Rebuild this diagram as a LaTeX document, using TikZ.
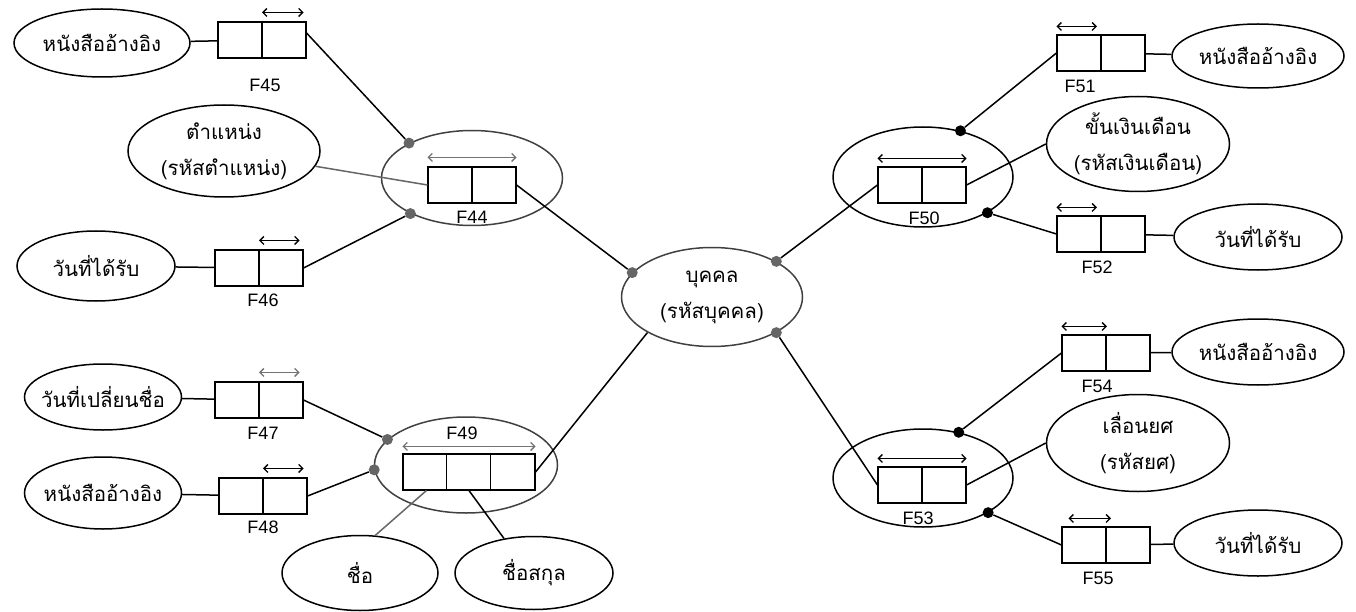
\documentclass[tikz,border=0pt]{standalone}
\usepackage{fontspec}
\newfontfamily\thaifont[Script=Thai]{Loma}
\setsansfont{Liberation Sans}
\usetikzlibrary{shapes.geometric, arrows, arrows.meta, positioning}

\tikzstyle{entity} = [ellipse, draw=black, line width=1.5pt, inner sep=-15pt, align=center, font=\thaifont\fontsize{20.5}{36}\selectfont]
\tikzstyle{keybox} = [rectangle, draw=black, line width=1.1pt, minimum width=88pt, minimum height=36pt, inner sep=0pt]
\tikzstyle{widebox} = [keybox, minimum width=132pt]
\tikzstyle{keyarrow} = [{Straight Barb[length=4pt, width=8pt]}-{Straight Barb[length=4pt, width=8pt]}, line width=1.3pt]
\tikzstyle{flabel} = [inner sep=0pt, font=\sffamily\fontsize{18}{18}\selectfont]
\tikzstyle{gdot} = [circle, fill=black!60, inner sep=0pt, minimum size=11pt]
\tikzstyle{bdot} = [gdot, fill=black]
\tikzstyle{link} = [line width=1.5pt]

\begin{document}
\begin{tikzpicture}[x=1pt, y=1pt]
\useasboundingbox (0,0) rectangle (1356,-612);

% left side
\node (e45) [entity, minimum width=176pt, minimum height=68pt] at (102,-43) {หนังสืออ้างอิง};
\node (epos) [entity, minimum width=192pt, minimum height=92pt] at (224,-151) {ตำแหน่ง\\(รหัสตำแหน่ง)};
\node (e46) [entity, minimum width=158pt, minimum height=70pt] at (96,-266) {วันที่ได้รับ};
\node (e47) [entity, minimum width=157pt, minimum height=66pt] at (103,-397) {วันที่เปลี่ยนชื่อ};
\node (e48) [entity, minimum width=157pt, minimum height=72pt] at (103,-493) {หนังสืออ้างอิง};
\node (efirst) [entity, minimum width=156pt, minimum height=75pt] at (360,-573) {ชื่อ};
\node (elast) [entity, minimum width=158pt, minimum height=73pt] at (534,-573) {ชื่อสกุล};
\node (e44) [entity, draw=black!75, minimum width=181pt, minimum height=95pt] at (472,-178) {};
\node (e49) [entity, draw=black!75, minimum width=183pt, minimum height=96pt] at (466,-465) {};
\node (person) [entity, draw=black!75, minimum width=181pt, minimum height=99pt] at (712,-297) {บุคคล\\(รหัสบุคคล)};

% right side
\node (e50) [entity, minimum width=180pt, minimum height=100pt] at (923,-177) {};
\node (e51) [entity, minimum width=172pt, minimum height=64pt] at (1258,-56) {หนังสืออ้างอิง};
\node (esalary) [entity, minimum width=183pt, minimum height=95pt] at (1138,-144) {ขั้นเงินเดือน\\(รหัสเงินเดือน)};
\node (e52) [entity, minimum width=168pt, minimum height=66pt] at (1258,-237) {วันที่ได้รับ};
\node (e53) [entity, minimum width=180pt, minimum height=98pt] at (923,-478) {};
\node (e54) [entity, minimum width=172pt, minimum height=66pt] at (1258,-352) {หนังสืออ้างอิง};
\node (erank) [entity, minimum width=183pt, minimum height=97pt] at (1138,-443) {เลื่อนยศ\\(รหัสยศ)};
\node (e55) [entity, minimum width=168pt, minimum height=66pt] at (1258,-543) {วันที่ได้รับ};

% key boxes
\node (f45) [keybox] at (262,-40) {};
\node (f44) [keybox] at (472,-185) {};
\node (f46) [keybox] at (259,-268) {};
\node (f47) [keybox] at (259,-400) {};
\node (f48) [keybox] at (263,-496) {};
\node (f49) [widebox] at (469,-472) {};
\node (f50) [keybox] at (922,-185) {};
\node (f51) [keybox] at (1101,-53) {};
\node (f52) [keybox] at (1101,-234) {};
\node (f53) [keybox] at (922,-485) {};
\node (f54) [keybox] at (1106,-353) {};
\node (f55) [keybox] at (1106,-545) {};

\foreach \b in {f45,f44,f46,f47,f48,f50,f51,f52,f53,f54,f55}
  \draw [line width=1.1pt] (\b.north) -- (\b.south);
\draw [line width=1.1pt] ([xshift=44pt]f49.north west) -- ([xshift=44pt]f49.south west);
\draw [line width=1.1pt] ([xshift=88pt]f49.north west) -- ([xshift=88pt]f49.south west);

% arrows over the keys
\draw [keyarrow] ([yshift=9pt]f45.north) -- ([yshift=9pt, xshift=-3pt]f45.north east);
\draw [keyarrow, black!55] ([yshift=9pt]f44.north west) -- ([yshift=9pt]f44.north east);
\draw [keyarrow] ([yshift=9pt]f46.north) -- ([yshift=9pt, xshift=-4pt]f46.north east);
\draw [keyarrow, black!55] ([yshift=9pt]f47.north) -- ([yshift=9pt, xshift=-4pt]f47.north east);
\draw [keyarrow] ([yshift=9pt]f48.north) -- ([yshift=9pt, xshift=-4pt]f48.north east);
\draw [keyarrow, black!55] ([yshift=7pt]f49.north west) -- ([yshift=7pt]f49.north east);
\draw [keyarrow] ([yshift=8pt]f50.north west) -- ([yshift=8pt]f50.north east);
\draw [keyarrow] ([yshift=8pt]f51.north west) -- ([yshift=8pt, xshift=-4pt]f51.north);
\draw [keyarrow] ([yshift=8pt]f52.north west) -- ([yshift=8pt, xshift=-4pt]f52.north);
\draw [keyarrow] ([yshift=8pt]f53.north west) -- ([yshift=8pt]f53.north east);
\draw [keyarrow] ([yshift=8pt]f54.north west) -- ([yshift=8pt, xshift=1pt]f54.north);
\draw [keyarrow] ([yshift=8pt, xshift=7pt]f55.north west) -- ([yshift=8pt, xshift=5pt]f55.north);

% key labels
\node (l45) [flabel, below=20pt of f45, xshift=3pt] {F45};
\node (l44) [flabel, below=7pt of f44] {F44};
\node (l46) [flabel, below=7pt of f46, xshift=4pt] {F46};
\node (l47) [flabel, below=8pt of f47, xshift=4pt] {F47};
\node (l48) [flabel, below=6pt of f48] {F48};
\node (l49) [flabel, above=14pt of f49, xshift=-7pt] {F49};
\node (l50) [flabel, below=8pt of f50, xshift=2pt] {F50};
\node (l51) [flabel, below=8pt of f51, xshift=-21pt] {F51};
\node (l52) [flabel, below=8pt of f52, xshift=-4pt] {F52};
\node (l53) [flabel, below=8pt of f53, xshift=-4pt] {F53};
\node (l54) [flabel, below=8pt of f54, xshift=-9pt] {F54};
\node (l55) [flabel, below=8pt of f55, xshift=-8pt] {F55};

% connection dots
\node (d44a) [gdot] at (e44.151) {};
\node (d44b) [gdot] at (e44.210) {};
\node (d49a) [gdot] at (e49.162) {};
\node (d49b) [gdot] at (e49.183) {};
\node (dpa) [gdot] at (person.163) {};
\node (dpb) [gdot] at (person.29) {};
\node (dpc) [gdot] at (person.-29) {};
\node (d50a) [bdot] at (e50.51) {};
\node (d50b) [bdot] at (e50.-29) {};
\node (d53a) [bdot] at (e53.52) {};
\node (d53b) [bdot] at (e53.-28) {};

% lines
\draw [link] (e45) -- (f45);
\draw [link] ([yshift=7pt]f45.east) -- (d44a);
\draw [link, black!60] (epos) -- (f44.west);
\draw [link] (e46) -- (f46);
\draw [link] (f46.east) -- (d44b);
\draw [link] (f44.east) -- (dpa);
\draw [link] (e47) -- (f47);
\draw [link] (f47.east) -- (d49a);
\draw [link] (e48) -- (f48);
\draw [link] (f48.east) -- (d49b);
\draw [link] (f49.east) -- (person.south west);
\draw [link, black!60] (efirst.68) -- ([xshift=24pt]f49.south west);
\draw [link] (elast.131) -- (f49.south);

\draw [link] (dpb) -- (f50.west);
\draw [link] (f50.east) -- (esalary.west);
\draw [link] (d50a) -- (f51.west);
\draw [link] (f51) -- (e51);
\draw [link] (d50b) -- (f52.west);
\draw [link] (f52) -- (e52);
\draw [link] (dpc) -- (f53.west);
\draw [link] (f53.east) -- (erank.west);
\draw [link] (d53a) -- (f54.west);
\draw [link] (f54) -- (e54);
\draw [link] (d53b) -- (f55.west);
\draw [link] (f55) -- (e55);

\end{tikzpicture}
\end{document}
